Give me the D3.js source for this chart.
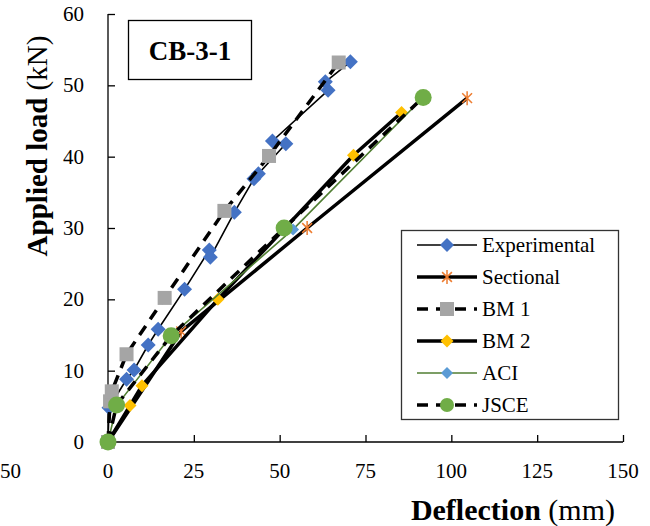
<!DOCTYPE html>
<html><head><meta charset="utf-8">
<script src="https://cdn.jsdelivr.net/npm/d3@7"></script>
<style>body{margin:0;background:#fff}svg{display:block}</style>
</head><body><svg id="c" width="650" height="526"></svg>
<script>
// ---- data ----
const xTicks = [0, 25, 50, 75, 100, 125, 150];
const yTicks = [0, 10, 20, 30, 40, 50, 60];
const seriesNames = ["Experimental", "Sectional", "BM 1", "BM 2", "ACI", "JSCE"];
const expX = [0, 0.3, 5.4, 7.6, 11.7, 14.6, 22.3, 29.5, 29.8, 36.8, 42.5, 43.8, 51.8, 47.9, 64.1, 63.3, 70.6];
const expY = [0, 4.8, 8.8, 10.1, 13.6, 15.8, 21.4, 26.9, 25.9, 32.2, 36.9, 37.6, 41.8, 42.2, 49.3, 50.5, 53.3];
const secX = [0, 21.3, 58, 104.6];
const secY = [0, 15.5, 30, 48.2];
const bm1X = [0, 0.6, 1.1, 5.4, 16.5, 33.9, 46.9, 67.2];
const bm1Y = [0, 5.7, 7.1, 12.3, 20.2, 32.4, 40.1, 53.2];
const bm2X = [0, 6.4, 9.9, 32, 71.5, 85.5];
const bm2Y = [0, 5.1, 7.9, 20, 40.2, 46.2];
const aciX = [0, 2.5, 18.4, 53.9, 91.8];
const aciY = [0, 5.1, 14.9, 29.8, 48.3];
const jsceX = [0, 2.5, 18.4, 51.3, 91.8];
const jsceY = [0, 5.2, 14.9, 30, 48.3];
const chartTitle = "CB-3-1";

// ---- drawing ----
const svg = d3.select("#c");
const FONT = "'Liberation Serif','Times New Roman',serif";
const x = d3.scaleLinear().domain([0, 150]).range([108, 623]);
const y = d3.scaleLinear().domain([0, 60]).range([442, 14]);

// axes (ticks inside)
const xAxis = svg.append("g").attr("transform", "translate(0,442)")
  .call(d3.axisTop(x).tickValues(xTicks).tickSize(7).tickFormat(""));
const yAxis = svg.append("g").attr("transform", "translate(108,0)")
  .call(d3.axisRight(y).tickValues(yTicks).tickSize(7).tickFormat(""));
[xAxis, yAxis].forEach(g => {
  g.selectAll("path.domain").attr("d", null);
  g.selectAll("line").attr("stroke", "#000").attr("stroke-width", 1.3);
});
svg.append("line").attr("x1", 108).attr("x2", 623).attr("y1", 442).attr("y2", 442).attr("stroke", "#000").attr("stroke-width", 1.3);
svg.append("line").attr("x1", 108).attr("x2", 108).attr("y1", 14).attr("y2", 442).attr("stroke", "#000").attr("stroke-width", 1.3);

svg.append("g").selectAll("text").data(xTicks).join("text")
  .attr("x", d => x(d)).attr("y", 478).attr("text-anchor", "middle")
  .attr("font-family", FONT).attr("font-size", 21).text(d => d);
svg.append("g").selectAll("text").data(yTicks).join("text")
  .attr("x", 84).attr("y", d => y(d) + 7).attr("text-anchor", "end")
  .attr("font-family", FONT).attr("font-size", 21).text(d => d);
// cropped label from neighbouring panel
svg.append("text").attr("x", 21).attr("y", 478).attr("text-anchor", "end")
  .attr("font-family", FONT).attr("font-size", 21).text("50");

// axis titles
const xt = svg.append("text").attr("x", 615).attr("y", 520).attr("text-anchor", "end")
  .attr("font-family", FONT).attr("font-size", 30);
xt.append("tspan").attr("font-weight", "bold").text("Deflection");
xt.append("tspan").text(" (mm)");
const yt = svg.append("text").attr("transform", "translate(47,146) rotate(-90)")
  .attr("text-anchor", "middle").attr("font-family", FONT).attr("font-size", 29);
yt.append("tspan").attr("font-weight", "bold").text("Applied load");
yt.append("tspan").text(" (kN)");

// title box
svg.append("rect").attr("x", 128.5).attr("y", 20.5).attr("width", 123).attr("height", 59)
  .attr("fill", "#fff").attr("stroke", "#000").attr("stroke-width", 1.3);
svg.append("text").attr("x", 190).attr("y", 60).attr("text-anchor", "middle")
  .attr("font-family", FONT).attr("font-size", 27).attr("font-weight", "bold").text(chartTitle);

const series = [
  {xs: expX, ys: expY, stroke: "#000", sw: 1.6, dash: null, marker: "diamond", fill: "#4472C4", ms: 7.5},
  {xs: secX, ys: secY, stroke: "#000", sw: 3.5, dash: null, marker: "asterisk", fill: "#ED7D31", ms: 7},
  {xs: bm1X, ys: bm1Y, stroke: "#000", sw: 3.5, dash: "11,8", marker: "square", fill: "#A5A5A5", ms: 7},
  {xs: bm2X, ys: bm2Y, stroke: "#000", sw: 3.5, dash: null, marker: "diamond", fill: "#FFC000", ms: 6.5},
  {xs: aciX, ys: aciY, stroke: "#507E32", sw: 1.6, dash: null, marker: "diamond", fill: "#5B9BD5", ms: 6},
  {xs: jsceX, ys: jsceY, stroke: "#000", sw: 3.5, dash: "11,8", marker: "circle", fill: "#70AD47", ms: 8.5}
];

function drawMarker(g, type, cx, cy, fill, s) {
  if (type === "diamond") {
    g.append("path").attr("d", `M${cx},${cy - s}L${cx + s},${cy}L${cx},${cy + s}L${cx - s},${cy}Z`).attr("fill", fill);
  } else if (type === "square") {
    g.append("rect").attr("x", cx - s).attr("y", cy - s).attr("width", 2 * s).attr("height", 2 * s).attr("fill", fill);
  } else if (type === "circle") {
    g.append("circle").attr("cx", cx).attr("cy", cy).attr("r", s).attr("fill", fill);
  } else if (type === "asterisk") {
    const a = s * 0.7;
    g.append("path").attr("d", `M${cx - a},${cy - a}L${cx + a},${cy + a}M${cx - a},${cy + a}L${cx + a},${cy - a}M${cx},${cy - s}L${cx},${cy + s}`)
      .attr("stroke", fill).attr("stroke-width", 1.5).attr("fill", "none");
  }
}

const line = d3.line().x(d => x(d[0])).y(d => y(d[1]));
series.forEach(s => {
  const pts = s.xs.map((v, i) => [v, s.ys[i]]);
  const g = svg.append("g");
  g.append("path").attr("d", line(pts)).attr("fill", "none").attr("stroke", s.stroke)
    .attr("stroke-width", s.sw).attr("stroke-dasharray", s.dash).attr("stroke-linejoin", "round");
  pts.forEach(p => drawMarker(g, s.marker, x(p[0]), y(p[1]), s.fill, s.ms));
});

// legend
svg.append("rect").attr("x", 401.5).attr("y", 230.5).attr("width", 217).attr("height", 189)
  .attr("fill", "#fff").attr("stroke", "#333").attr("stroke-width", 1.3);
series.forEach((s, i) => {
  const cy = 245 + i * 32;
  const g = svg.append("g");
  g.append("line").attr("x1", 417).attr("x2", 477).attr("y1", cy).attr("y2", cy)
    .attr("stroke", s.stroke).attr("stroke-width", s.sw).attr("stroke-dasharray", s.dash);
  drawMarker(g, s.marker, 447, cy, s.fill, Math.min(s.ms, 7));
  g.append("text").attr("x", 482).attr("y", cy + 7).attr("font-family", FONT).attr("font-size", 21)
    .text(seriesNames[i]);
});
</script></body></html>
